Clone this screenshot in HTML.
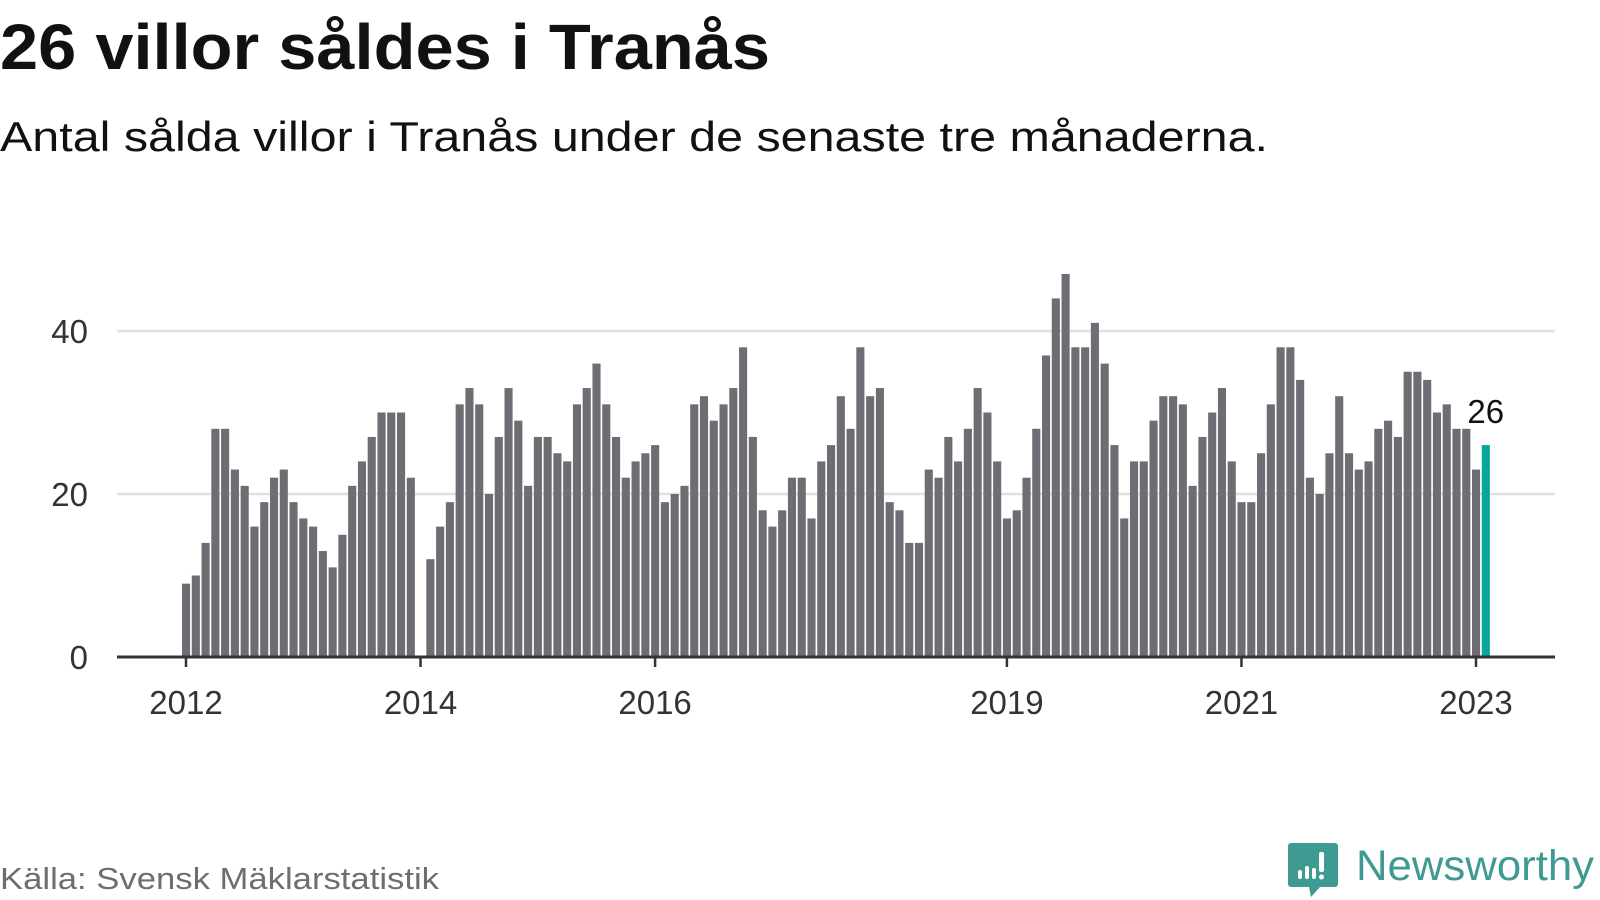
<!DOCTYPE html>
<html><head><meta charset="utf-8"><style>
html,body{margin:0;padding:0;background:#fff;}
svg{display:block;font-family:"Liberation Sans",sans-serif;}
</style></head><body>
<svg id="chart" width="1600" height="900" viewBox="0 0 1600 900">
<text x="0" y="69" font-size="64" font-weight="bold" fill="#111" textLength="770" lengthAdjust="spacingAndGlyphs">26 villor såldes i Tranås</text>
<text x="0" y="151" font-size="42" fill="#111" textLength="1268" lengthAdjust="spacingAndGlyphs">Antal sålda villor i Tranås under de senaste tre månaderna.</text>
<g id="grid"></g><g id="bars"></g><g id="axes"></g>
<text x="0" y="889" font-size="31" fill="#6e6d73" textLength="439" lengthAdjust="spacingAndGlyphs">Källa: Svensk Mäklarstatistik</text>
<g>
<path d="M1291 843 h44 a3 3 0 0 1 3 3 v38 a3 3 0 0 1 -3 3 h-15 l-9 10 l-2 -10 h-18 a3 3 0 0 1 -3 -3 v-38 a3 3 0 0 1 3 -3z" fill="#3f9b91"/>
<rect x="1298" y="870" width="4" height="9" rx="2" fill="#fff"/>
<rect x="1305" y="866" width="4" height="13" rx="2" fill="#fff"/>
<rect x="1312" y="868" width="4" height="11" rx="2" fill="#fff"/>
<rect x="1319" y="852" width="5" height="20" rx="2" fill="#fff"/>
<circle cx="1321.5" cy="877" r="2.5" fill="#fff"/>
<text x="1356" y="880" font-size="43" fill="#3f9b91" textLength="238" lengthAdjust="spacingAndGlyphs">Newsworthy</text>
</g>
</svg>
<script>
const values2012 = [9,10,14,28,28,23,21,16,19,22,23,19];
const values2013 = [17,16,13,11,15,21,24,27,30,30,30,22];
const values2014 = [0,12,16,19,31,33,31,20,27,33,29,21];
const values2015 = [27,27,25,24,31,33,36,31,27,22,24,25];
const values2016 = [26,19,20,21,31,32,29,31,33,38,27,18];
const values2017 = [16,18,22,22,17,24,26,32,28,38,32,33];
const values2018 = [19,18,14,14,23,22,27,24,28,33,30,24];
const values2019 = [17,18,22,28,37,44,47,38,38,41,36,26];
const values2020 = [17,24,24,29,32,32,31,21,27,30,33,24];
const values2021 = [19,19,25,31,38,38,34,22,20,25,32,25];
const values2022 = [23,24,28,29,27,35,35,34,30,31,28,28];
const values2023 = [23,26];
const yTicks = [0,20,40];
const xTickYears = [2012,2014,2016,2019,2021,2023];
const startYear = 2012;

const NS="http://www.w3.org/2000/svg";
const allValues = [].concat(values2012,values2013,values2014,values2015,values2016,values2017,values2018,values2019,values2020,values2021,values2022,values2023);
const x0=186, monthW=1290/132, y0=657, unit=163/20;
const xScale = m => x0 + m*monthW;
const yScale = v => y0 - v*unit;
function mk(tag, attrs, parent){const e=document.createElementNS(NS,tag);for(const k in attrs)e.setAttribute(k,attrs[k]);parent.appendChild(e);return e;}
const grid=document.getElementById('grid'), bars=document.getElementById('bars'), axes=document.getElementById('axes');
yTicks.forEach(t=>{
  if(t>0){const l=mk('line',{x1:117,x2:1555,y1:yScale(t),y2:yScale(t),stroke:'#e0e0e0','stroke-width':2.5},grid);
  
  }
  const tx=mk('text',{x:88,y:yScale(t)+12,'font-size':33,fill:'#333','text-anchor':'end'},axes);
  tx.textContent=t;
  
  
});
const last=allValues.length-1;
allValues.forEach((v,i)=>{
  if(v<=0)return;
  const r=mk('rect',{x:xScale(i)-4,y:yScale(v),width:8.1,height:v*unit,fill:i===last?'#0aa59b':'#6e6d73'},bars);
  
  
});
const ax=mk('line',{x1:117,x2:1555,y1:y0,y2:y0,stroke:'#333','stroke-width':3},axes);


xTickYears.forEach(yr=>{
  const x=xScale((yr-startYear)*12);
  const tk=mk('line',{x1:x,x2:x,y1:y0,y2:y0+10,stroke:'#333','stroke-width':2.5},axes);
  
  
  const t=mk('text',{x:x,y:714,'font-size':33,fill:'#333','text-anchor':'middle'},axes);
  t.textContent=yr;
  
  
});
const lx=xScale(last), lv=allValues[last];
const lbl=mk('text',{x:lx,y:yScale(lv)-22,'font-size':33,fill:'#111','text-anchor':'middle'},axes);
lbl.textContent=lv;


</script>
</body></html>
